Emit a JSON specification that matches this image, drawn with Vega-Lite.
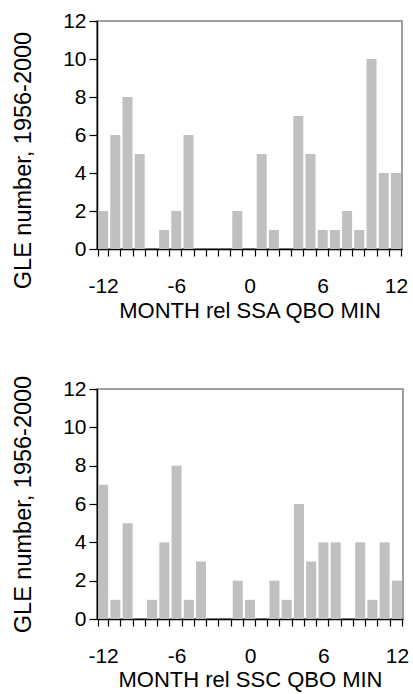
{
  "$schema": "https://vega.github.io/schema/vega-lite/v6.json",
  "background": "white",
  "padding": {"left": 10, "top": 9, "right": 5, "bottom": 5},
  "spacing": 52,
  "config": {
    "font": "Liberation Sans",
    "view": {"stroke": "#808080", "strokeWidth": 1.5},
    "axis": {
      "domainColor": "black", "tickColor": "black", "labelColor": "black", "titleColor": "black",
      "labelFont": "Liberation Sans", "titleFont": "Liberation Sans",
      "labelFontSize": 21, "titleFontSize": 22, "titleFontWeight": "normal",
      "grid": false, "domainWidth": 1.5, "tickWidth": 1.2
    }
  },
  "datasets": {
    "ssa": [
      {"month": -12, "n": 2}, {"month": -11, "n": 6}, {"month": -10, "n": 8}, {"month": -9, "n": 5},
      {"month": -8, "n": 0}, {"month": -7, "n": 1}, {"month": -6, "n": 2}, {"month": -5, "n": 6},
      {"month": -4, "n": 0}, {"month": -3, "n": 0}, {"month": -2, "n": 0}, {"month": -1, "n": 2},
      {"month": 0, "n": 0}, {"month": 1, "n": 5}, {"month": 2, "n": 1}, {"month": 3, "n": 0},
      {"month": 4, "n": 7}, {"month": 5, "n": 5}, {"month": 6, "n": 1}, {"month": 7, "n": 1},
      {"month": 8, "n": 2}, {"month": 9, "n": 1}, {"month": 10, "n": 10}, {"month": 11, "n": 4},
      {"month": 12, "n": 4}
    ],
    "ssc": [
      {"month": -12, "n": 7}, {"month": -11, "n": 1}, {"month": -10, "n": 5}, {"month": -9, "n": 0},
      {"month": -8, "n": 1}, {"month": -7, "n": 4}, {"month": -6, "n": 8}, {"month": -5, "n": 1},
      {"month": -4, "n": 3}, {"month": -3, "n": 0}, {"month": -2, "n": 0}, {"month": -1, "n": 2},
      {"month": 0, "n": 1}, {"month": 1, "n": 0}, {"month": 2, "n": 2}, {"month": 3, "n": 1},
      {"month": 4, "n": 6}, {"month": 5, "n": 3}, {"month": 6, "n": 4}, {"month": 7, "n": 4},
      {"month": 8, "n": 0}, {"month": 9, "n": 4}, {"month": 10, "n": 1}, {"month": 11, "n": 4},
      {"month": 12, "n": 2}
    ]
  },
  "vconcat": [
    {
      "width": 305, "height": 228,
      "data": {"name": "ssa"},
      "mark": {"type": "bar", "color": "#c0c0c0"},
      "encoding": {
        "x": {
          "field": "month", "type": "ordinal", "sort": "ascending",
          "scale": {"paddingInner": 0.18, "paddingOuter": 0.09},
          "axis": {
            "title": "MONTH rel SSA QBO MIN", "labelAngle": 0, "tickBand": "extent",
            "tickSize": 7, "labelPadding": 19, "titlePadding": 4,
            "labelExpr": "indexof(['-12','-6','0','6','12'], datum.label) >= 0 ? datum.label : ''"
          }
        },
        "y": {
          "field": "n", "type": "quantitative",
          "scale": {"domain": [0, 12], "nice": false},
          "axis": {
            "title": "GLE number, 1956-2000", "values": [0, 2, 4, 6, 8, 10, 12],
            "tickSize": 8, "labelPadding": 3, "titleX": -67, "titleY": 139, "titleBaseline": "alphabetic", "titleFontSize": 23.5
          }
        }
      }
    },
    {
      "width": 306, "height": 230,
      "data": {"name": "ssc"},
      "mark": {"type": "bar", "color": "#c0c0c0"},
      "encoding": {
        "x": {
          "field": "month", "type": "ordinal", "sort": "ascending",
          "scale": {"paddingInner": 0.18, "paddingOuter": 0.09},
          "axis": {
            "title": "MONTH rel SSC QBO MIN", "labelAngle": 0, "tickBand": "extent",
            "tickSize": 7, "labelPadding": 19, "titlePadding": 3,
            "labelExpr": "indexof(['-12','-6','0','6','12'], datum.label) >= 0 ? datum.label : ''"
          }
        },
        "y": {
          "field": "n", "type": "quantitative",
          "scale": {"domain": [0, 12], "nice": false},
          "axis": {
            "title": "GLE number, 1956-2000", "values": [0, 2, 4, 6, 8, 10, 12],
            "tickSize": 8, "labelPadding": 3, "titleX": -67, "titleY": 115, "titleBaseline": "alphabetic", "titleFontSize": 23.5
          }
        }
      }
    }
  ]
}
